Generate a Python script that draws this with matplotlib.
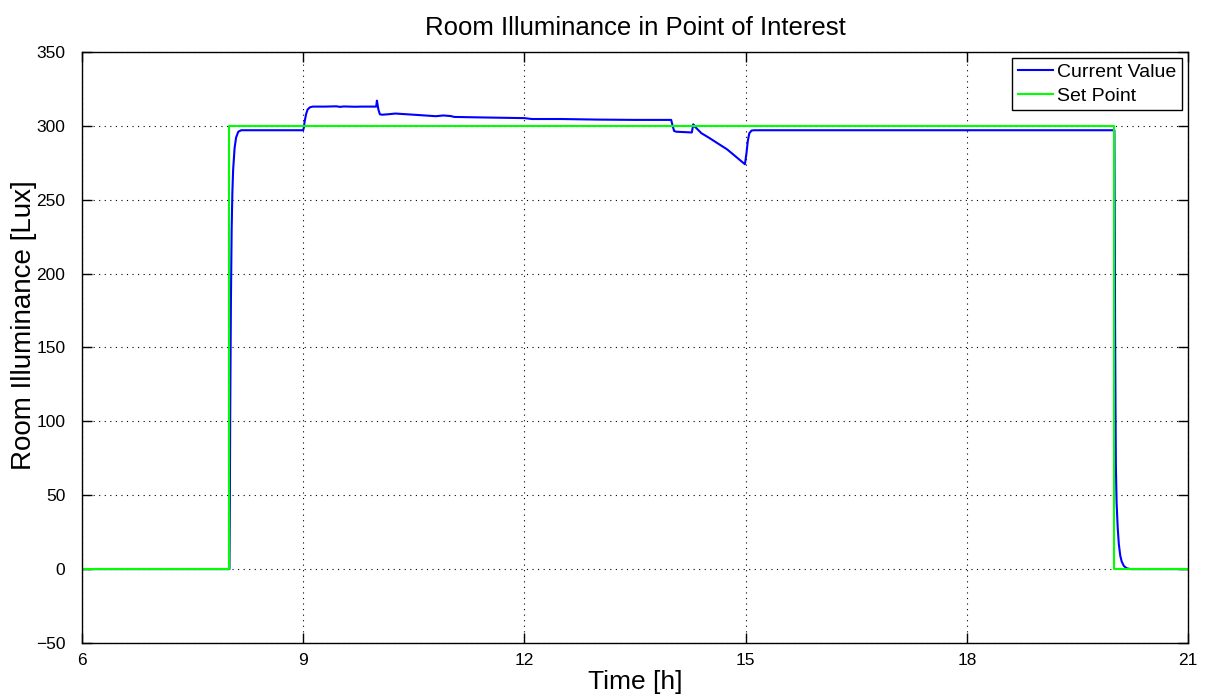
import matplotlib
matplotlib.use('Agg')
import matplotlib.pyplot as plt

# Illuminance measured at the point of interest [Lux] vs time of day [h]
tempo_atual = [
    6.0, 8.0, 8.005, 8.01, 8.02, 8.03, 8.04, 8.05, 8.07, 8.09, 8.12, 8.16,
    9.0, 9.01, 9.02, 9.04, 9.06, 9.09, 9.13, 9.3, 9.45, 9.5, 9.55, 9.7, 9.8,
    9.99, 10.0, 10.02, 10.04, 10.07, 10.15, 10.25, 10.5, 10.8, 10.9, 11.0,
    11.05, 11.5, 12.0, 12.1, 12.5, 13.0, 13.5, 13.99,
    14.01, 14.03, 14.06, 14.27, 14.29, 14.31, 14.4, 14.5, 14.75, 14.99,
    15.01, 15.03, 15.05, 15.08, 15.12,
    20.0, 20.005, 20.01, 20.015, 20.02, 20.03, 20.045, 20.06, 20.08, 20.1,
    20.13, 20.17, 20.22, 21.0,
]
valor_atual = [
    0, 0, 40, 100, 180, 230, 255, 270, 285, 292, 296, 297,
    297, 299, 303, 308, 311, 312.5, 313, 313, 313.2, 312.8, 313.1, 312.9, 313,
    313, 317, 311, 307.8, 307.5, 307.8, 308.3, 307.5, 306.5, 307, 306.6,
    306, 305.6, 305.2, 304.6, 304.6, 304.2, 304, 304,
    300, 296.5, 296, 295.5, 301, 299.5, 295, 292, 284, 274,
    281, 290, 295, 296.8, 297,
    297, 230, 160, 110, 70, 45, 28, 17, 9, 5,
    2, 0.5, 0, 0,
]

# Set point [Lux]
tempo_ref = [6, 8, 8, 20, 20, 21]
valor_ref = [0, 0, 300, 300, 0, 0]

fonte = ['Liberation Sans', 'DejaVu Sans']
plt.rcParams['font.family'] = fonte

fig = plt.figure(figsize=(12.05, 6.97), dpi=100)
ax = fig.add_axes([0.068, 0.0775, 0.918, 0.848])

ax.plot(tempo_atual, valor_atual, color='#0000ff', lw=1.5, label='Current Value')
ax.plot(tempo_ref, valor_ref, color='#00ff00', lw=1.5, label='Set Point')

ax.set_xlim(6, 21)
ax.set_ylim(-50, 350)
ax.set_xticks(range(6, 22, 3))
ax.set_yticks(range(-50, 351, 50))
ax.set_yticklabels(['\u221250'] + [str(v) for v in range(0, 351, 50)])

ax.tick_params(direction='in', length=7, width=1, top=True, right=True,
               labelsize=12.5, colors='black')
ax.tick_params(axis='y', pad=12)
ax.tick_params(axis='x', pad=7)
for lado in ax.spines.values():
    lado.set_linewidth(1)
    lado.set_color('black')

ax.grid(True, linestyle=(0, (1, 4)), color='black', lw=0.8)

ax.set_title('Room Illuminance in Point of Interest', fontsize=18.5, pad=12)
ax.set_xlabel('Time [h]', fontsize=19, labelpad=2)
ax.set_ylabel('Room Illuminance [Lux]', fontsize=20, va='center')
ax.yaxis.set_label_coords(-0.052, 0.538)

leg = ax.legend(loc='upper right', fontsize=14, fancybox=False, framealpha=1,
                edgecolor='black', borderaxespad=0.3, handlelength=1.8,
                handletextpad=0.2, borderpad=0.3, labelspacing=0.3)
leg.get_frame().set_linewidth(1)

fig.savefig('out.png', dpi=100)
